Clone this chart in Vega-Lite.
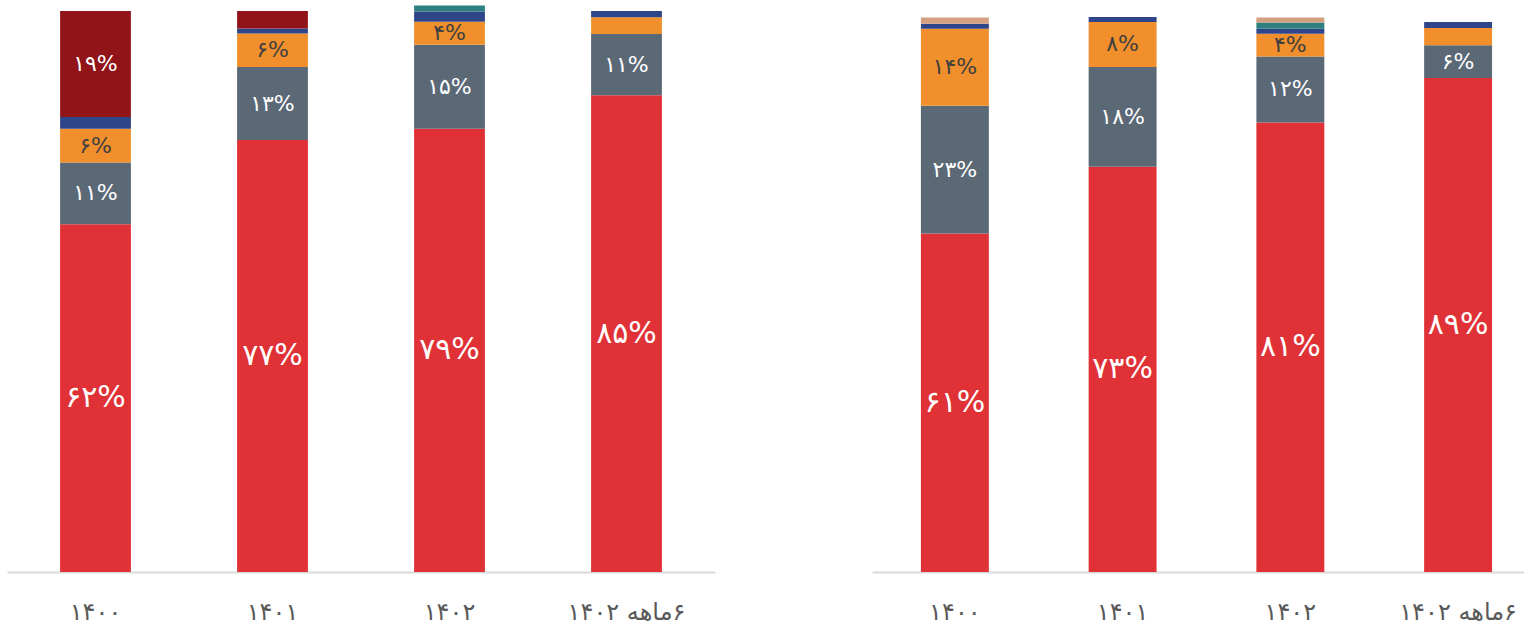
{
  "$schema": "https://vega.github.io/schema/vega-lite/v6.json",
  "padding": {"left": 7, "top": -3, "right": 0, "bottom": 0},
  "background": "white",
  "spacing": 157,
  "bounds": "flush",
  "config": {"view": {"stroke": null}, "font": "DejaVu Sans"},
  "datasets": {
    "d": [
      {"panel": "A", "cat": "۱۴۰۰", "series": "s1", "ord": 1, "value": 62, "label": "۶۲%"},
      {"panel": "A", "cat": "۱۴۰۰", "series": "s2", "ord": 2, "value": 11, "label": "۱۱%"},
      {"panel": "A", "cat": "۱۴۰۰", "series": "s3", "ord": 3, "value": 6, "label": "۶%"},
      {"panel": "A", "cat": "۱۴۰۰", "series": "s4", "ord": 4, "value": 2.1, "label": ""},
      {"panel": "A", "cat": "۱۴۰۰", "series": "s5", "ord": 5, "value": 18.9, "label": "۱۹%"},
      {"panel": "A", "cat": "۱۴۰۱", "series": "s1", "ord": 1, "value": 77, "label": "۷۷%"},
      {"panel": "A", "cat": "۱۴۰۱", "series": "s2", "ord": 2, "value": 13, "label": "۱۳%"},
      {"panel": "A", "cat": "۱۴۰۱", "series": "s3", "ord": 3, "value": 6, "label": "۶%"},
      {"panel": "A", "cat": "۱۴۰۱", "series": "s4", "ord": 4, "value": 0.9, "label": ""},
      {"panel": "A", "cat": "۱۴۰۱", "series": "s5", "ord": 5, "value": 3.1, "label": ""},
      {"panel": "A", "cat": "۱۴۰۲", "series": "s1", "ord": 1, "value": 79, "label": "۷۹%"},
      {"panel": "A", "cat": "۱۴۰۲", "series": "s2", "ord": 2, "value": 15, "label": "۱۵%"},
      {"panel": "A", "cat": "۱۴۰۲", "series": "s3", "ord": 3, "value": 4.1, "label": "۴%"},
      {"panel": "A", "cat": "۱۴۰۲", "series": "s4", "ord": 4, "value": 1.8, "label": ""},
      {"panel": "A", "cat": "۱۴۰۲", "series": "s6", "ord": 6, "value": 1.1, "label": ""},
      {"panel": "A", "cat": "\u200f۶ماهه ۱۴۰۲", "series": "s1", "ord": 1, "value": 85, "label": "۸۵%"},
      {"panel": "A", "cat": "\u200f۶ماهه ۱۴۰۲", "series": "s2", "ord": 2, "value": 10.9, "label": "۱۱%"},
      {"panel": "A", "cat": "\u200f۶ماهه ۱۴۰۲", "series": "s3", "ord": 3, "value": 3, "label": ""},
      {"panel": "A", "cat": "\u200f۶ماهه ۱۴۰۲", "series": "s4", "ord": 4, "value": 1.1, "label": ""},
      {"panel": "B", "cat": "۱۴۰۰", "series": "s1", "ord": 1, "value": 61, "label": "۶۱%"},
      {"panel": "B", "cat": "۱۴۰۰", "series": "s2", "ord": 2, "value": 23, "label": "۲۳%"},
      {"panel": "B", "cat": "۱۴۰۰", "series": "s3", "ord": 3, "value": 13.9, "label": "۱۴%"},
      {"panel": "B", "cat": "۱۴۰۰", "series": "s4", "ord": 4, "value": 0.9, "label": ""},
      {"panel": "B", "cat": "۱۴۰۰", "series": "s7", "ord": 7, "value": 1.1, "label": ""},
      {"panel": "B", "cat": "۱۴۰۱", "series": "s1", "ord": 1, "value": 73, "label": "۷۳%"},
      {"panel": "B", "cat": "۱۴۰۱", "series": "s2", "ord": 2, "value": 18, "label": "۱۸%"},
      {"panel": "B", "cat": "۱۴۰۱", "series": "s3", "ord": 3, "value": 8.1, "label": "۸%"},
      {"panel": "B", "cat": "۱۴۰۱", "series": "s4", "ord": 4, "value": 0.9, "label": ""},
      {"panel": "B", "cat": "۱۴۰۲", "series": "s1", "ord": 1, "value": 81, "label": "۸۱%"},
      {"panel": "B", "cat": "۱۴۰۲", "series": "s2", "ord": 2, "value": 11.9, "label": "۱۲%"},
      {"panel": "B", "cat": "۱۴۰۲", "series": "s3", "ord": 3, "value": 4.1, "label": "۴%"},
      {"panel": "B", "cat": "۱۴۰۲", "series": "s4", "ord": 4, "value": 0.9, "label": ""},
      {"panel": "B", "cat": "۱۴۰۲", "series": "s6", "ord": 6, "value": 1.1, "label": ""},
      {"panel": "B", "cat": "۱۴۰۲", "series": "s7", "ord": 7, "value": 0.9, "label": ""},
      {"panel": "B", "cat": "\u200f۶ماهه ۱۴۰۲", "series": "s1", "ord": 1, "value": 89, "label": "۸۹%"},
      {"panel": "B", "cat": "\u200f۶ماهه ۱۴۰۲", "series": "s2", "ord": 2, "value": 5.9, "label": "۶%"},
      {"panel": "B", "cat": "\u200f۶ماهه ۱۴۰۲", "series": "s3", "ord": 3, "value": 3.1, "label": ""},
      {"panel": "B", "cat": "\u200f۶ماهه ۱۴۰۲", "series": "s4", "ord": 4, "value": 1.1, "label": ""}
    ]
  },
  "hconcat": [
    {
      "width": 708,
      "height": 572,
      "data": {"name": "d"},
      "transform": [
        {"filter": "datum.panel === 'A'"},
        {"stack": "value", "groupby": ["cat"], "sort": [{"field": "ord"}], "as": ["v0", "v1"]},
        {"calculate": "(datum.v0 + datum.v1) / 2", "as": "vm"}
      ],
      "encoding": {
        "x": {
          "field": "cat", "type": "nominal",
          "sort": ["۱۴۰۰", "۱۴۰۱", "۱۴۰۲", "\u200f۶ماهه ۱۴۰۲"],
          "scale": {"paddingInner": 0.6, "paddingOuter": 0.3},
          "axis": {"title": null, "labelAngle": 0, "ticks": false, "domainColor": "#d9d9d9", "domainWidth": 2, "labelFontSize": 24, "labelColor": "#595959", "labelPadding": 47, "labelBaseline": "alphabetic", "labelFont": "DejaVu Sans"}
        }
      },
      "layer": [
        {
          "mark": {"type": "bar"},
          "encoding": {
            "y": {"field": "v0", "type": "quantitative", "scale": {"domain": [0, 101.96], "nice": false, "zero": true}, "axis": null},
            "y2": {"field": "v1"},
            "color": {"field": "series", "type": "nominal", "legend": null,
              "scale": {"domain": ["s1", "s2", "s3", "s4", "s5", "s6", "s7"], "range": ["#e03236", "#5b6875", "#f08f2b", "#2f4589", "#911518", "#2e8080", "#d4a080"]}}
          }
        },
        {
          "mark": {"type": "text", "font": "DejaVu Sans", "baseline": "middle", "align": "center"},
          "encoding": {
            "y": {"field": "vm", "type": "quantitative"},
            "text": {"field": "label"},
            "color": {"condition": {"test": "datum.series === 's3'", "value": "#404040"}, "value": "#ffffff"},
            "size": {"condition": {"test": "datum.series === 's1'", "value": 30}, "value": 22}
          }
        }
      ]
    },
    {
      "width": 652,
      "height": 572,
      "data": {"name": "d"},
      "transform": [
        {"filter": "datum.panel === 'B'"},
        {"stack": "value", "groupby": ["cat"], "sort": [{"field": "ord"}], "as": ["v0", "v1"]},
        {"calculate": "(datum.v0 + datum.v1) / 2", "as": "vm"}
      ],
      "encoding": {
        "x": {
          "field": "cat", "type": "nominal",
          "sort": ["۱۴۰۰", "۱۴۰۱", "۱۴۰۲", "\u200f۶ماهه ۱۴۰۲"],
          "scale": {"paddingInner": 0.595, "paddingOuter": 0.241, "align": 0.605},
          "axis": {"title": null, "labelAngle": 0, "ticks": false, "domainColor": "#d9d9d9", "domainWidth": 2, "labelFontSize": 24, "labelColor": "#595959", "labelPadding": 47, "labelBaseline": "alphabetic", "labelFont": "DejaVu Sans"}
        }
      },
      "layer": [
        {
          "mark": {"type": "bar"},
          "encoding": {
            "y": {"field": "v0", "type": "quantitative", "scale": {"domain": [0, 103.06], "nice": false, "zero": true}, "axis": null},
            "y2": {"field": "v1"},
            "color": {"field": "series", "type": "nominal", "legend": null,
              "scale": {"domain": ["s1", "s2", "s3", "s4", "s5", "s6", "s7"], "range": ["#e03236", "#5b6875", "#f08f2b", "#2f4589", "#911518", "#2e8080", "#d4a080"]}}
          }
        },
        {
          "mark": {"type": "text", "font": "DejaVu Sans", "baseline": "middle", "align": "center"},
          "encoding": {
            "y": {"field": "vm", "type": "quantitative"},
            "text": {"field": "label"},
            "color": {"condition": {"test": "datum.series === 's3'", "value": "#404040"}, "value": "#ffffff"},
            "size": {"condition": {"test": "datum.series === 's1'", "value": 30}, "value": 22}
          }
        }
      ]
    }
  ]
}
